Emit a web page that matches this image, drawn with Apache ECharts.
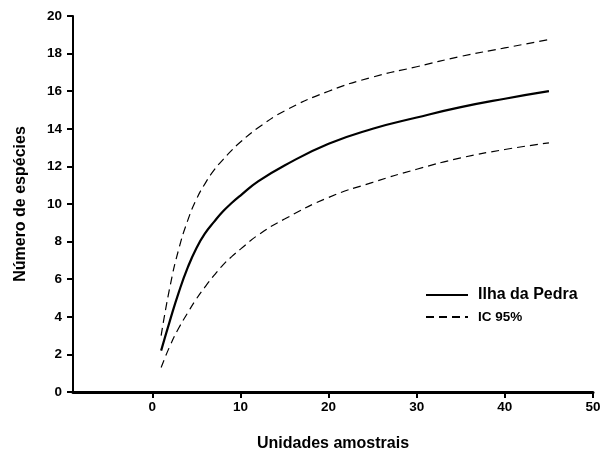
<!DOCTYPE html>
<html>
<head>
<meta charset="utf-8">
<script src="https://cdn.jsdelivr.net/npm/echarts@6/dist/echarts.min.js"></script>
<style>
  html, body { margin: 0; padding: 0; background: #fff; }
  #chart { width: 607px; height: 457px; }
</style>
</head>
<body>
<div id="chart"></div>
<script>
// Sampling effort (sample units) and species accumulation with 95% CI
var unidades = [1, 2, 3, 4, 5, 6, 7, 8, 9, 10, 12, 15, 20, 25, 30, 35, 40, 45];
var especies = [2.2, 3.8, 5.3, 6.6, 7.65, 8.45, 9.05, 9.6, 10.05, 10.45, 11.2, 12.05, 13.2, 14.0, 14.6, 15.15, 15.6, 16.0];
var icSuperior = [3.0, 5.6, 7.6, 9.1, 10.25, 11.1, 11.8, 12.35, 12.85, 13.3, 14.05, 14.95, 16.0, 16.75, 17.3, 17.85, 18.3, 18.75];
var icInferior = [1.3, 2.45, 3.4, 4.2, 4.95, 5.6, 6.2, 6.75, 7.2, 7.6, 8.35, 9.2, 10.35, 11.15, 11.85, 12.45, 12.9, 13.25];

// x range of the plot and the labelled part of it
var xMin = -9, xMax = 50;
var xTickMin = 0, xTickStep = 10;

function pares(xs, ys) {
  return xs.map(function (x, i) { return [x, ys[i]]; });
}

var FONT = '"Liberation Sans", Arial, sans-serif';
var chart = echarts.init(document.getElementById('chart'), null, { renderer: 'canvas' });

// plot frame in pixels
var gLeft = 73, gRight = 14, gTop = 16, gBottom = 65;
var plotW = 607 - gLeft - gRight;
// second grid starts where x = 0 so its ticks can count from 0
var tickGridLeft = gLeft + plotW * (xTickMin - xMin) / (xMax - xMin);

var dashed = { color: '#000', width: 1.2, type: [8, 5] };
var labelFont = { fontFamily: FONT, fontSize: 13.5, fontWeight: 'bold', color: '#000' };
var nameFont = { fontFamily: FONT, fontSize: 16, fontWeight: 'bold', color: '#000' };

chart.setOption({
  animation: false,
  backgroundColor: '#fff',
  grid: [
    { left: gLeft, right: gRight, top: gTop, bottom: gBottom },
    { left: tickGridLeft, right: gRight, top: gTop, bottom: gBottom }
  ],
  legend: {
    orient: 'vertical',
    left: 420,
    top: 282,
    itemWidth: 42,
    itemHeight: 14,
    itemGap: 7,
    // line-only legend keys (no marker)
    itemStyle: { color: 'rgba(0,0,0,0)', borderWidth: 0, opacity: 0 },
    data: [
      { name: 'Ilha da Pedra', textStyle: { fontSize: 16, fontWeight: 'bold' } },
      { name: 'IC 95%', textStyle: { fontSize: 13.5, fontWeight: 'bold' } }
    ],
    textStyle: { fontFamily: FONT, color: '#000', padding: [0, 0, 0, 5] }
  },
  xAxis: [
    {
      type: 'value',
      gridIndex: 0,
      min: xMin,
      max: xMax,
      name: 'Unidades amostrais',
      nameLocation: 'middle',
      nameGap: 44,
      nameTextStyle: nameFont,
      axisLine: { show: true, onZero: false, lineStyle: { color: '#000', width: 3 } },
      axisTick: { show: false },
      axisLabel: { show: false },
      splitLine: { show: false }
    },
    {
      // labelled scale 0..50 with outward ticks
      type: 'value',
      gridIndex: 1,
      min: xTickMin,
      max: xMax,
      interval: xTickStep,
      axisLine: { show: true, lineStyle: { color: 'rgba(0,0,0,0)', width: 3 } },
      axisTick: { show: true, length: 6, lineStyle: { color: '#000', width: 2 } },
      axisLabel: Object.assign({ margin: 8 }, labelFont),
      splitLine: { show: false }
    }
  ],
  yAxis: [
    {
      type: 'value',
      gridIndex: 0,
      min: 0,
      max: 20,
      interval: 2,
      name: 'Número de espécies',
      nameLocation: 'middle',
      nameGap: 44,
      nameTextStyle: nameFont,
      axisLine: { show: true, onZero: false, lineStyle: { color: '#000', width: 2 } },
      axisTick: { show: true, length: 6, lineStyle: { color: '#000', width: 2 } },
      axisLabel: Object.assign({ margin: 11 }, labelFont),
      splitLine: { show: false }
    },
    {
      type: 'value',
      gridIndex: 1,
      min: 0,
      max: 20,
      interval: 2,
      axisLine: { show: false },
      axisTick: { show: false },
      axisLabel: { show: false },
      splitLine: { show: false }
    }
  ],
  series: [
    {
      name: 'Ilha da Pedra',
      type: 'line',
      data: pares(unidades, especies),
      smooth: 0.5,
      symbol: 'none',
      lineStyle: { color: '#000', width: 2.2 },
      itemStyle: { color: '#000' }
    },
    {
      name: 'IC 95%',
      type: 'line',
      data: pares(unidades, icSuperior),
      smooth: 0.5,
      symbol: 'none',
      lineStyle: dashed,
      itemStyle: { color: '#000' }
    },
    {
      name: 'IC 95%',
      type: 'line',
      data: pares(unidades, icInferior),
      smooth: 0.5,
      symbol: 'none',
      lineStyle: dashed,
      itemStyle: { color: '#000' }
    }
  ]
});
</script>
</body>
</html>
